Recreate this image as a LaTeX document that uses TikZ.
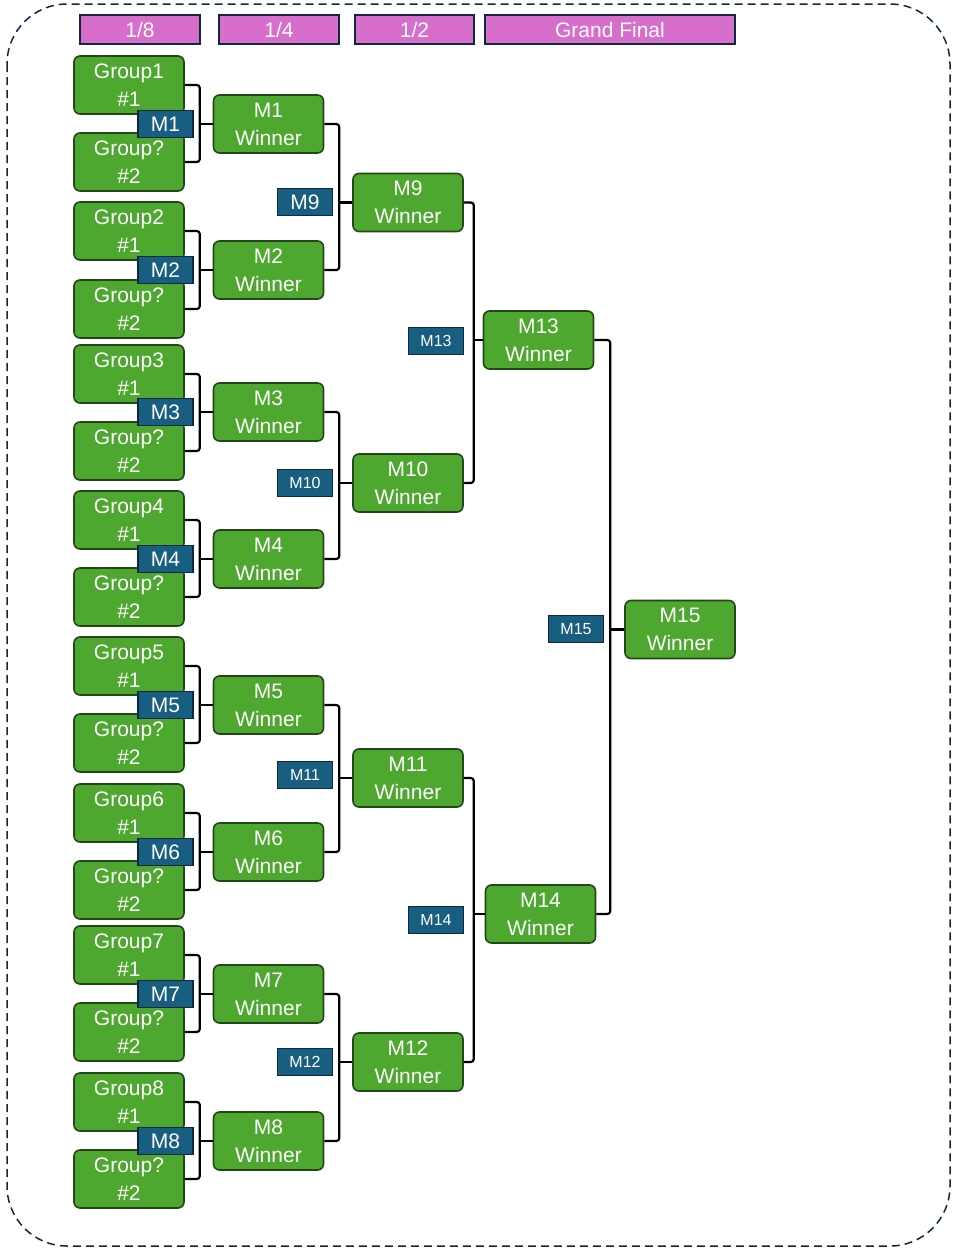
\documentclass[tikz,border=0pt]{standalone}
\usepackage{fontspec}
\setmainfont{Liberation Sans}
\usepackage{tikz}
\usetikzlibrary{calc}

\definecolor{teamgreen}{HTML}{4EA72E}
\definecolor{teamedge}{HTML}{22481A}
\definecolor{tagblue}{HTML}{175E81}
\definecolor{navy}{HTML}{0E2841}
\definecolor{roundpink}{HTML}{D86ECC}

\begin{document}
\begin{tikzpicture}[x=1pt, y=-1pt,
    team/.style={draw=teamedge, fill=teamgreen, line width=1.6pt, rounded corners=6pt,
        minimum width=110pt, minimum height=58pt, align=center, text=white,
        inner sep=0pt, font=\fontsize{21}{28}\selectfont},
    tag/.style={draw=navy, fill=tagblue, line width=1.6pt, minimum width=55pt,
        minimum height=27pt, inner sep=0pt, text=white, font=\fontsize{21}{24}\selectfont},
    smalltag/.style={tag, font=\fontsize{16}{18}\selectfont},
    stage/.style={draw=navy, fill=roundpink, line width=1.6pt, minimum height=29pt,
        inner sep=0pt, text=white, font=\fontsize{21}{24}\selectfont},
    link/.style={line width=2.2pt, rounded corners=3pt}]
\useasboundingbox (0,0) rectangle (957,1250);
\draw[navy, line width=1.5pt, dash pattern=on 8pt off 5pt, rounded corners=60pt] (7,4) rectangle (950,1246);

\node[stage, minimum width=120pt] (h1) at (140,29.5) {1/8};
\node[stage, minimum width=120pt] (h2) at (279,29.5) {1/4};
\node[stage, minimum width=119pt] (h3) at (414.5,29.5) {1/2};
\node[stage, minimum width=250pt] (h4) at (610,29.5) {Grand Final};

% round of 16
\foreach \i/\ya/\yb/\yw in {1/85/162/124, 2/231/309/270, 3/374/451/412, 4/520/597/559,
                            5/666/743/705, 6/813/890/852, 7/955/1032/994, 8/1102/1179/1141} {
    \node[team] (g\i a) at (129,\ya) {Group\i\\\#1};
    \node[team] (g\i b) at (129,\yb) {Group?\\\#2};
    \node[team] (w\i) at (268.5,\yw) {M\i\\Winner};
    \draw[link] (g\i a.east) -- ++(15,0) |- (g\i b.east);
    \draw[link] (w\i.west) -- ++(-14,0);
    \node[tag] (l\i) at (165.5,\yw) {M\i};
}

% quarter finals
\node[team] (w9) at (408,202.5) {M9\\Winner};
\node[team] (w10) at (408,483) {M10\\Winner};
\node[team] (w11) at (408,778) {M11\\Winner};
\node[team] (w12) at (408,1062) {M12\\Winner};
\draw[link] (w1.east) -- ++(15,0) |- (w2.east);
\draw[link] (w3.east) -- ++(15,0) |- (w4.east);
\draw[link] (w5.east) -- ++(15,0) |- (w6.east);
\draw[link] (w7.east) -- ++(15,0) |- (w8.east);
\draw[link] (w9.west) -- ++(-14,0);
\draw[link] (w10.west) -- ++(-14,0);
\draw[link] (w11.west) -- ++(-14,0);
\draw[link] (w12.west) -- ++(-14,0);
\node[tag] (l9) at (305,202) {M9};
\node[smalltag] (l10) at (305,483) {M10};
\node[smalltag] (l11) at (305,775) {M11};
\node[smalltag] (l12) at (305,1062) {M12};

% semi finals
\node[team] (w13) at (538.5,340) {M13\\Winner};
\node[team] (w14) at (540.5,914) {M14\\Winner};
\draw[link] (w9.east) -- ++(10,0) |- (w10.east);
\draw[link] (w11.east) -- ++(10,0) |- (w12.east);
\draw[link] (w13.west) -- ++(-10,0);
\draw[link] (w14.west) -- ++(-12,0);
\node[smalltag] (l13) at (436,341) {M13};
\node[smalltag] (l14) at (436,920) {M14};

% final
\node[team] (w15) at (680,629.5) {M15\\Winner};
\draw[link] (w13.east) -- ++(16,0) |- (w14.east);
\draw[link] (w15.west) -- ++(-15,0);
\node[smalltag] (l15) at (576,629) {M15};
\end{tikzpicture}
\end{document}
